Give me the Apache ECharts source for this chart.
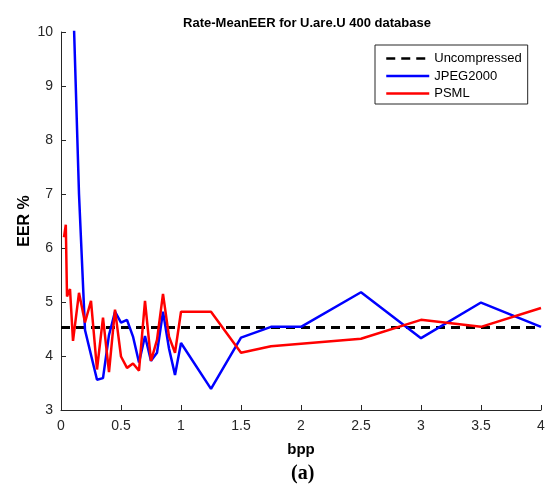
<!DOCTYPE html>
<html>
<head>
<meta charset="utf-8">
<script src="https://cdn.jsdelivr.net/npm/echarts@6/dist/echarts.min.js"></script>
<style>html,body{margin:0;padding:0;background:#fff}#c{width:549px;height:484px}</style>
</head>
<body>
<div id="c"></div>
<script>
const seriesNames = ['Uncompressed', 'JPEG2000', 'PSML'];
const uncompressedX = [0, 4];
const uncompressedY = [4.53, 4.53];
const jpegX = [0.1, 0.15, 0.2, 0.3, 0.35, 0.4, 0.45, 0.5, 0.55, 0.6, 0.65, 0.7, 0.75, 0.8, 0.85, 0.9, 0.95, 1.0, 1.25, 1.5, 1.75, 2.0, 2.5, 3.0, 3.5, 4.0];
const jpegY = [10.7, 7.0, 4.48, 3.56, 3.59, 4.39, 4.82, 4.62, 4.67, 4.36, 3.88, 4.37, 3.91, 4.06, 4.82, 4.14, 3.65, 4.24, 3.39, 4.34, 4.54, 4.54, 5.18, 4.33, 4.99, 4.54];
const psmlX = [0.025, 0.04, 0.05, 0.075, 0.1, 0.15, 0.2, 0.25, 0.3, 0.35, 0.4, 0.45, 0.5, 0.55, 0.6, 0.65, 0.7, 0.75, 0.8, 0.85, 0.9, 0.95, 1.0, 1.25, 1.5, 1.75, 2.5, 3.0, 3.5, 4.0];
const psmlY = [6.2, 6.43, 5.1, 5.24, 4.28, 5.17, 4.62, 5.02, 3.75, 4.71, 3.70, 4.86, 3.99, 3.78, 3.86, 3.73, 5.02, 3.91, 4.30, 5.15, 4.36, 4.06, 4.82, 4.82, 4.06, 4.18, 4.32, 4.67, 4.54, 4.89];
const xTicks = [0, 0.5, 1, 1.5, 2, 2.5, 3, 3.5, 4];
const yTicks = [3, 4, 5, 6, 7, 8, 9, 10];

const zip = (xs, ys) => xs.map((x, i) => [x, ys[i]]);
const axisColor = '#262626';
const font = 'Liberation Sans, Arial, sans-serif';

const chart = echarts.init(document.getElementById('c'), null, {renderer: 'canvas'});
chart.setOption({
  animation: false,
  backgroundColor: '#fff',
  title: {
    text: 'Rate-MeanEER for U.are.U 400 database',
    left: 302, top: 12, textAlign: 'center',
    textStyle: {fontFamily: font, fontWeight: 'bold', fontSize: 13, color: '#000'}
  },
  grid: {left: 61, right: 8, top: 32, bottom: 74, containLabel: false},
  legend: {
    orient: 'vertical', left: 375, top: 45,
    data: seriesNames.map(n => ({name: n, itemStyle: {opacity: 0}})),
    itemWidth: 43, itemHeight: 14, itemGap: 4.5,
    padding: [7, 6, 4, 10],
    borderColor: '#262626', borderWidth: 1, backgroundColor: '#fff',
    lineStyle: {width: 2.5},
    textStyle: {fontFamily: font, fontSize: 13, color: '#000'}
  },
  xAxis: {
    type: 'value', min: 0, max: 4, interval: 0.5,
    name: 'bpp', nameLocation: 'middle', nameGap: 32, nameMoveOverlap: false,
    nameTextStyle: {fontFamily: font, fontWeight: 'bold', fontSize: 15, color: '#000'},
    axisLine: {show: true, lineStyle: {color: axisColor, width: 1}},
    axisTick: {show: true, inside: true, length: 5, lineStyle: {color: axisColor}},
    axisLabel: {fontFamily: font, fontSize: 14, color: '#262626', margin: 9,
      formatter: v => xTicks.includes(v) ? String(v) : ''},
    splitLine: {show: false}
  },
  yAxis: {
    type: 'value', min: 3, max: 10, interval: 1,
    name: 'EER %', nameLocation: 'middle', nameGap: 28, nameMoveOverlap: false,
    nameTextStyle: {fontFamily: font, fontWeight: 'bold', fontSize: 16, color: '#000'},
    axisLine: {show: true, lineStyle: {color: axisColor, width: 1}},
    axisTick: {show: true, inside: true, length: 5, lineStyle: {color: axisColor}},
    axisLabel: {fontFamily: font, fontSize: 14, color: '#262626', margin: 8,
      formatter: v => yTicks.includes(v) ? String(v) : ''},
    splitLine: {show: false}
  },
  series: [
    {name: seriesNames[0], type: 'line', data: zip(uncompressedX, uncompressedY), showSymbol: false, symbol: 'none',
      color: '#000', lineStyle: {color: '#000', width: 3, type: [9, 6]}, z: 1},
    {name: seriesNames[1], type: 'line', data: zip(jpegX, jpegY), showSymbol: false, symbol: 'none',
      color: '#0000ff', lineStyle: {color: '#0000ff', width: 2.5}, z: 2, clip: true},
    {name: seriesNames[2], type: 'line', data: zip(psmlX, psmlY), showSymbol: false, symbol: 'none',
      color: '#ff0000', lineStyle: {color: '#ff0000', width: 2.5}, z: 3, clip: true}
  ],
  graphic: [{
    type: 'text', left: 291, top: 464,
    style: {text: '(a)', fontFamily: 'Liberation Serif, Times New Roman, serif', fontWeight: 'bold', fontSize: 20, fill: '#000'}
  }]
});
</script>
</body>
</html>
